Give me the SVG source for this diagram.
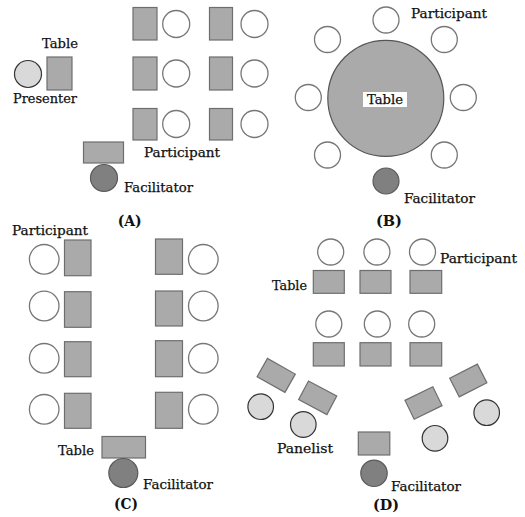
<svg xmlns="http://www.w3.org/2000/svg" width="525" height="517" viewBox="0 0 525 517">
<style>
.tb{fill:#aaaaaa;stroke:#6e6e6e;stroke-width:1.2}
.pc{fill:#ffffff;stroke:#777777;stroke-width:1.3}
.pr{fill:#d9d9d9;stroke:#333333;stroke-width:1.2}
.fa{fill:#808080;stroke:#5a5a5a;stroke-width:1.2}
.big{fill:#aaaaaa;stroke:#555555;stroke-width:1.2}
text{font-family:"DejaVu Serif","Liberation Serif",serif;font-size:12px;fill:#111111;stroke:#111111;stroke-width:0.25}
.cap{font-size:14px;font-weight:bold;stroke-width:0}
</style>
<rect width="525" height="517" fill="#ffffff"/>

<!-- Panel A -->
<g id="panelA">
  <g id="A-presenter"><circle class="pr" cx="28" cy="74" r="13.5"/></g>
  <g id="A-presenter-table"><rect class="tb" x="47" y="57" width="25" height="33"/></g>
  <g id="A-row1">
    <rect class="tb" x="133" y="7.5" width="24" height="32.5"/><circle class="pc" cx="176.2" cy="24" r="13.5"/>
    <rect class="tb" x="209.5" y="7.5" width="23" height="32.5"/><circle class="pc" cx="254.5" cy="24" r="13.5"/>
  </g>
  <g id="A-row2">
    <rect class="tb" x="133" y="57" width="24" height="33"/><circle class="pc" cx="176.2" cy="73.5" r="13.5"/>
    <rect class="tb" x="209.5" y="57" width="23" height="33"/><circle class="pc" cx="254.5" cy="73.5" r="13.5"/>
  </g>
  <g id="A-row3">
    <rect class="tb" x="133" y="108.5" width="24" height="31.5"/><circle class="pc" cx="176.2" cy="124" r="13.5"/>
    <rect class="tb" x="209.5" y="108.5" width="23" height="31.5"/><circle class="pc" cx="254.5" cy="124" r="13.5"/>
  </g>
  <g id="A-facilitator-table"><rect class="tb" x="83.5" y="142" width="40" height="21"/></g>
  <g id="A-facilitator"><circle class="fa" cx="104" cy="178" r="13.5"/></g>
  <text x="42" y="48" textLength="36" lengthAdjust="spacingAndGlyphs">Table</text>
  <text x="13" y="103" textLength="64" lengthAdjust="spacingAndGlyphs">Presenter</text>
  <text x="144" y="157" textLength="76" lengthAdjust="spacingAndGlyphs">Participant</text>
  <text x="124" y="192" textLength="69" lengthAdjust="spacingAndGlyphs">Facilitator</text>
  <text class="cap" x="117.7" y="226" textLength="24" lengthAdjust="spacingAndGlyphs">(A)</text>
</g>

<!-- Panel B -->
<g id="panelB">
  <g id="B-table">
    <circle class="big" cx="385.8" cy="98.3" r="58"/>
    <rect x="363" y="92" width="44" height="15" fill="#ffffff"/>
    <text x="367" y="103.5" textLength="36" lengthAdjust="spacingAndGlyphs">Table</text>
  </g>
  <g id="B-participants">
    <circle class="pc" cx="386" cy="20" r="13"/>
    <circle class="pc" cx="327.5" cy="39.5" r="13"/>
    <circle class="pc" cx="444.3" cy="39.5" r="13"/>
    <circle class="pc" cx="308.3" cy="97.5" r="13"/>
    <circle class="pc" cx="463.3" cy="97.5" r="13"/>
    <circle class="pc" cx="327.5" cy="155" r="13"/>
    <circle class="pc" cx="444.3" cy="155" r="13"/>
  </g>
  <g id="B-facilitator"><circle class="fa" cx="386" cy="181" r="13"/></g>
  <text x="411" y="18" textLength="76" lengthAdjust="spacingAndGlyphs">Participant</text>
  <text x="404" y="203" textLength="71" lengthAdjust="spacingAndGlyphs">Facilitator</text>
  <text class="cap" x="376" y="226" textLength="26" lengthAdjust="spacingAndGlyphs">(B)</text>
</g>

<!-- Panel C -->
<g id="panelC">
  <g id="C-left">
    <circle class="pc" cx="44.2" cy="259.3" r="14.8"/><rect class="tb" x="64.5" y="240" width="26.5" height="35.7"/>
    <circle class="pc" cx="44.2" cy="306" r="14.8"/><rect class="tb" x="64.5" y="291.7" width="26.5" height="35.6"/>
    <circle class="pc" cx="44.2" cy="358.3" r="14.8"/><rect class="tb" x="64.5" y="341.7" width="26.5" height="35"/>
    <circle class="pc" cx="44.2" cy="409.3" r="14.8"/><rect class="tb" x="64.5" y="393.3" width="26.5" height="35"/>
  </g>
  <g id="C-right">
    <rect class="tb" x="155.5" y="239" width="27" height="35.3"/><circle class="pc" cx="203.3" cy="259.3" r="14.8"/>
    <rect class="tb" x="155.5" y="291" width="27" height="35"/><circle class="pc" cx="203.3" cy="306" r="14.8"/>
    <rect class="tb" x="155.5" y="340.7" width="27" height="36"/><circle class="pc" cx="203.3" cy="358.3" r="14.8"/>
    <rect class="tb" x="155.5" y="392.3" width="27" height="36"/><circle class="pc" cx="203.3" cy="409.3" r="14.8"/>
  </g>
  <g id="C-facilitator-table"><rect class="tb" x="102" y="436.5" width="43.5" height="21.5"/></g>
  <g id="C-facilitator"><circle class="fa" cx="123.3" cy="473" r="14.5"/></g>
  <text x="12" y="234.5" textLength="76" lengthAdjust="spacingAndGlyphs">Participant</text>
  <text x="58" y="455" textLength="36" lengthAdjust="spacingAndGlyphs">Table</text>
  <text x="143" y="489" textLength="70" lengthAdjust="spacingAndGlyphs">Facilitator</text>
  <text class="cap" x="114" y="509" textLength="24" lengthAdjust="spacingAndGlyphs">(C)</text>
</g>

<!-- Panel D -->
<g id="panelD">
  <g id="D-row1">
    <circle class="pc" cx="330.7" cy="252" r="13"/><rect class="tb" x="313.3" y="270.5" width="31" height="22.8"/>
    <circle class="pc" cx="376.9" cy="252" r="13"/><rect class="tb" x="360" y="270.5" width="31" height="22.8"/>
    <circle class="pc" cx="422.5" cy="252" r="13"/><rect class="tb" x="410" y="270.5" width="31.7" height="22.8"/>
  </g>
  <g id="D-row2">
    <circle class="pc" cx="328.8" cy="324" r="13"/><rect class="tb" x="313.3" y="342.7" width="31" height="23.3"/>
    <circle class="pc" cx="377.3" cy="324" r="13"/><rect class="tb" x="360" y="342.7" width="31" height="23.3"/>
    <circle class="pc" cx="421.7" cy="324" r="13"/><rect class="tb" x="410" y="342.7" width="31.7" height="23.3"/>
  </g>
  <g id="D-panel-left">
    <rect class="tb" x="-16" y="-10.5" width="32" height="21" transform="translate(276.2 375.4) rotate(29.5)"/>
    <rect class="tb" x="-16" y="-10.5" width="32" height="21" transform="translate(317.7 397.8) rotate(28)"/>
    <circle class="pr" cx="260.7" cy="406.7" r="12.8"/>
    <circle class="pr" cx="303.3" cy="424.5" r="12.8"/>
  </g>
  <g id="D-panel-right">
    <rect class="tb" x="-15.5" y="-10.5" width="31" height="21" transform="translate(468.3 380.5) rotate(-27)"/>
    <rect class="tb" x="-15.5" y="-10.5" width="31" height="21" transform="translate(423.5 403) rotate(-26)"/>
    <circle class="pr" cx="486.7" cy="412.7" r="12.8"/>
    <circle class="pr" cx="435" cy="438.3" r="12.8"/>
  </g>
  <g id="D-facilitator-table"><rect class="tb" x="358.3" y="432" width="31.5" height="23"/></g>
  <g id="D-facilitator"><circle class="fa" cx="374" cy="473.3" r="13.2"/></g>
  <text x="272" y="290" textLength="35" lengthAdjust="spacingAndGlyphs">Table</text>
  <text x="440" y="262.5" textLength="77" lengthAdjust="spacingAndGlyphs">Participant</text>
  <text x="277" y="453" textLength="56" lengthAdjust="spacingAndGlyphs">Panelist</text>
  <text x="391" y="490.5" textLength="70" lengthAdjust="spacingAndGlyphs">Facilitator</text>
  <text class="cap" x="373" y="510" textLength="26" lengthAdjust="spacingAndGlyphs">(D)</text>
</g>
</svg>
